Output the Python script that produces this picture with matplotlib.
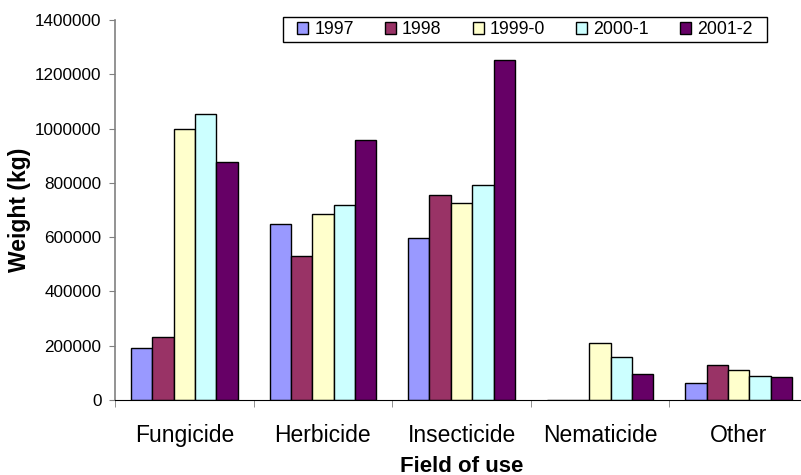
import numpy as np
import matplotlib.pyplot as plt
from matplotlib.patches import Rectangle
from matplotlib.ticker import FixedLocator, NullFormatter

plt.rcParams['font.family'] = ['Liberation Sans', 'DejaVu Sans']

categories = ['Fungicide', 'Herbicide', 'Insecticide', 'Nematicide', 'Other']
years = ['1997', '1998', '1999-0', '2000-1', '2001-2']
colors = ['#9999FF', '#993366', '#FFFFCC', '#CCFFFF', '#660066']

v1997 = [193000, 650000, 596000, 0, 61000]
v1998 = [231000, 529000, 757000, 0, 128000]
v1999 = [1000000, 685000, 726000, 209000, 110000]
v2000 = [1053000, 717000, 793000, 157000, 90000]
v2001 = [876000, 959000, 1254000, 97000, 83000]
series = [v1997, v1998, v1999, v2000, v2001]

W, H = 801, 475
fig = plt.figure(figsize=(W / 100, H / 100), dpi=100)
ax = fig.add_axes([115 / W, 75 / H, 693 / W, 380 / H])

x = np.arange(len(categories))
w = 0.154
for i, (vals, c, lab) in enumerate(zip(series, colors, years)):
    ax.bar(x + (i - 2) * w, vals, width=w, color=c, edgecolor='black',
           linewidth=1.0, label=lab)

ax.set_xlim(-0.5, 4.5)
ax.set_ylim(0, 1400000)
ax.set_yticks(np.arange(0, 1400001, 200000))
ax.set_yticklabels([str(v) for v in range(0, 1400001, 200000)], fontsize=12.3)

ax.set_xticks(x)
ax.set_xticklabels(categories, fontsize=16.5)
ax.tick_params(axis='x', length=0, pad=17.5)
ax.xaxis.set_minor_locator(FixedLocator(np.arange(-0.5, 4.6, 1.0)))
ax.xaxis.set_minor_formatter(NullFormatter())
ax.tick_params(axis='x', which='minor', length=5, color='#808080', direction='out')
ax.tick_params(axis='y', length=4.3, color='#808080', direction='out', pad=5.5)

for s in ['top', 'right']:
    ax.spines[s].set_visible(False)
ax.spines['left'].set_color('#808080')
ax.spines['left'].set_linewidth(1.2)
ax.spines['bottom'].set_color('black')

ax.set_xlabel('Field of use', fontsize=16, fontweight='bold', labelpad=6)
ax.set_ylabel('Weight (kg)', fontsize=16.5, fontweight='bold', labelpad=3)

# legend box
ax.add_patch(Rectangle((283 / W, 1 - 42 / H), 484 / W, 25 / H,
                       transform=fig.transFigure, facecolor='white',
                       edgecolor='black', linewidth=1.0, zorder=5,
                       clip_on=False))
leg = ax.legend(loc='center', bbox_to_anchor=(525 / W, 1 - 29.7 / H),
                bbox_transform=fig.transFigure, ncol=5, fontsize=12.8,
                frameon=False, handlelength=0.62, handleheight=0.62,
                handletextpad=0.34, columnspacing=1.75, borderpad=0.0)
leg.set_zorder(6)

fig.savefig('out.png', dpi=100)
